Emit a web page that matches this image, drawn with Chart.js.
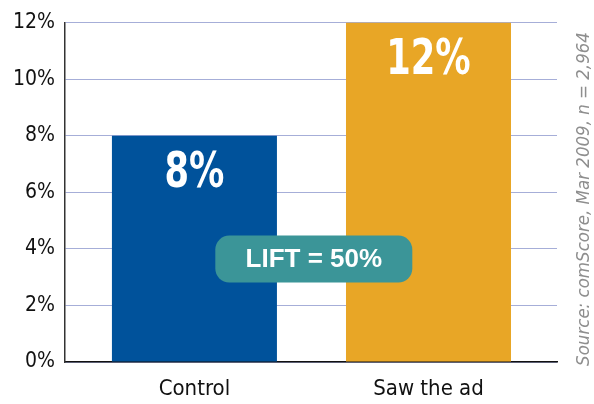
<!DOCTYPE html>
<html>
<head>
<meta charset="utf-8">
<script src="https://cdn.jsdelivr.net/npm/chart.js@4/dist/chart.umd.min.js"></script>
<style>
html,body{margin:0;padding:0;background:#fff;}
#wrap{position:relative;width:594px;height:404px;}
</style>
</head>
<body>
<div id="wrap"><canvas id="c" width="594" height="404"></canvas></div>
<script>
const categories = ["Control", "Saw the ad"];
const values = [8, 12];
const barColors = ["#00529b", "#e8a626"];
const yTicks = [0, 2, 4, 6, 8, 10, 12];
const liftLabel = "LIFT = 50%";
const sourceText = "Source: comScore, Mar 2009, n = 2,964";

const FONT = "'Liberation Sans Narrow', 'DejaVu Sans Condensed', 'Liberation Sans', sans-serif";

const labelPlugin = {
  id: 'labels',
  afterDatasetsDraw(chart) {
    const ctx = chart.ctx;
    const meta = chart.getDatasetMeta(0);
    const xs = chart.scales.x, ys = chart.scales.y;
    ctx.save();
    // value labels in bars (condensed)
    ctx.fillStyle = '#fff';
    ctx.font = "bold 49px " + FONT;
    ctx.textAlign = 'center';
    ctx.textBaseline = 'middle';
    meta.data.forEach((bar, i) => {
      ctx.save();
      ctx.translate(bar.x, bar.y + 39);
      ctx.scale(0.8, 1);
      ctx.fillText(values[i] + '%', 0, 0);
      ctx.restore();
    });
    // lift badge
    const cx = xs.getPixelForValue(0.51);
    const cy = ys.getPixelForValue(3.64);
    const w = 197, h = 47, r = 14;
    ctx.fillStyle = '#3b9598';
    ctx.beginPath();
    ctx.roundRect(cx - w / 2, cy - h / 2, w, h, r);
    ctx.fill();
    ctx.fillStyle = '#fff';
    ctx.font = "bold 26px 'Liberation Sans', Arial, sans-serif";
    ctx.fillText(liftLabel, cx, cy + 1);
    // source text
    ctx.translate(584, 199);
    ctx.rotate(-Math.PI / 2);
    ctx.fillStyle = '#8e8e8e';
    ctx.font = "italic 18.5px " + FONT;
    ctx.fillText(sourceText, 0, 0);
    ctx.restore();
  }
};

new Chart(document.getElementById('c'), {
  type: 'bar',
  data: {
    datasets: [{
      data: categories.map((c, i) => ({ x: i, y: values[i] })),
      backgroundColor: barColors,
      borderWidth: 0,
      categoryPercentage: 1,
      barPercentage: 0.705
    }]
  },
  plugins: [labelPlugin],
  options: {
    responsive: false,
    animation: false,
    layout: { padding: { left: 0, right: 37, top: 20, bottom: 0 } },
    plugins: { legend: { display: false }, tooltip: { enabled: false } },
    scales: {
      x: {
        type: 'linear',
        offset: false,
        min: -0.553,
        max: 1.549,
        afterBuildTicks(scale) { scale.ticks = categories.map((c, i) => ({ value: i })); },
        afterFit(scale) { scale.height = 42; },
        grid: { display: false, drawTicks: false, offset: false },
        border: { color: '#111', width: 1.5 },
        ticks: {
          callback: (v) => categories[v],
          color: '#111',
          font: { family: FONT, size: 22 },
          padding: 14,
          maxRotation: 0,
          autoSkip: false
        }
      },
      y: {
        min: 0,
        max: 12,
        afterBuildTicks(scale) { scale.ticks = yTicks.map(v => ({ value: v })); },
        afterFit(scale) { scale.width = 65; },
        grid: { color: '#a6aed8', lineWidth: 1, drawTicks: false },
        border: { color: '#333', width: 1.5 },
        ticks: {
          callback: (v) => v + '%',
          color: '#111',
          font: { family: FONT, size: 21 },
          padding: 10
        }
      }
    }
  }
});
</script>
</body>
</html>
